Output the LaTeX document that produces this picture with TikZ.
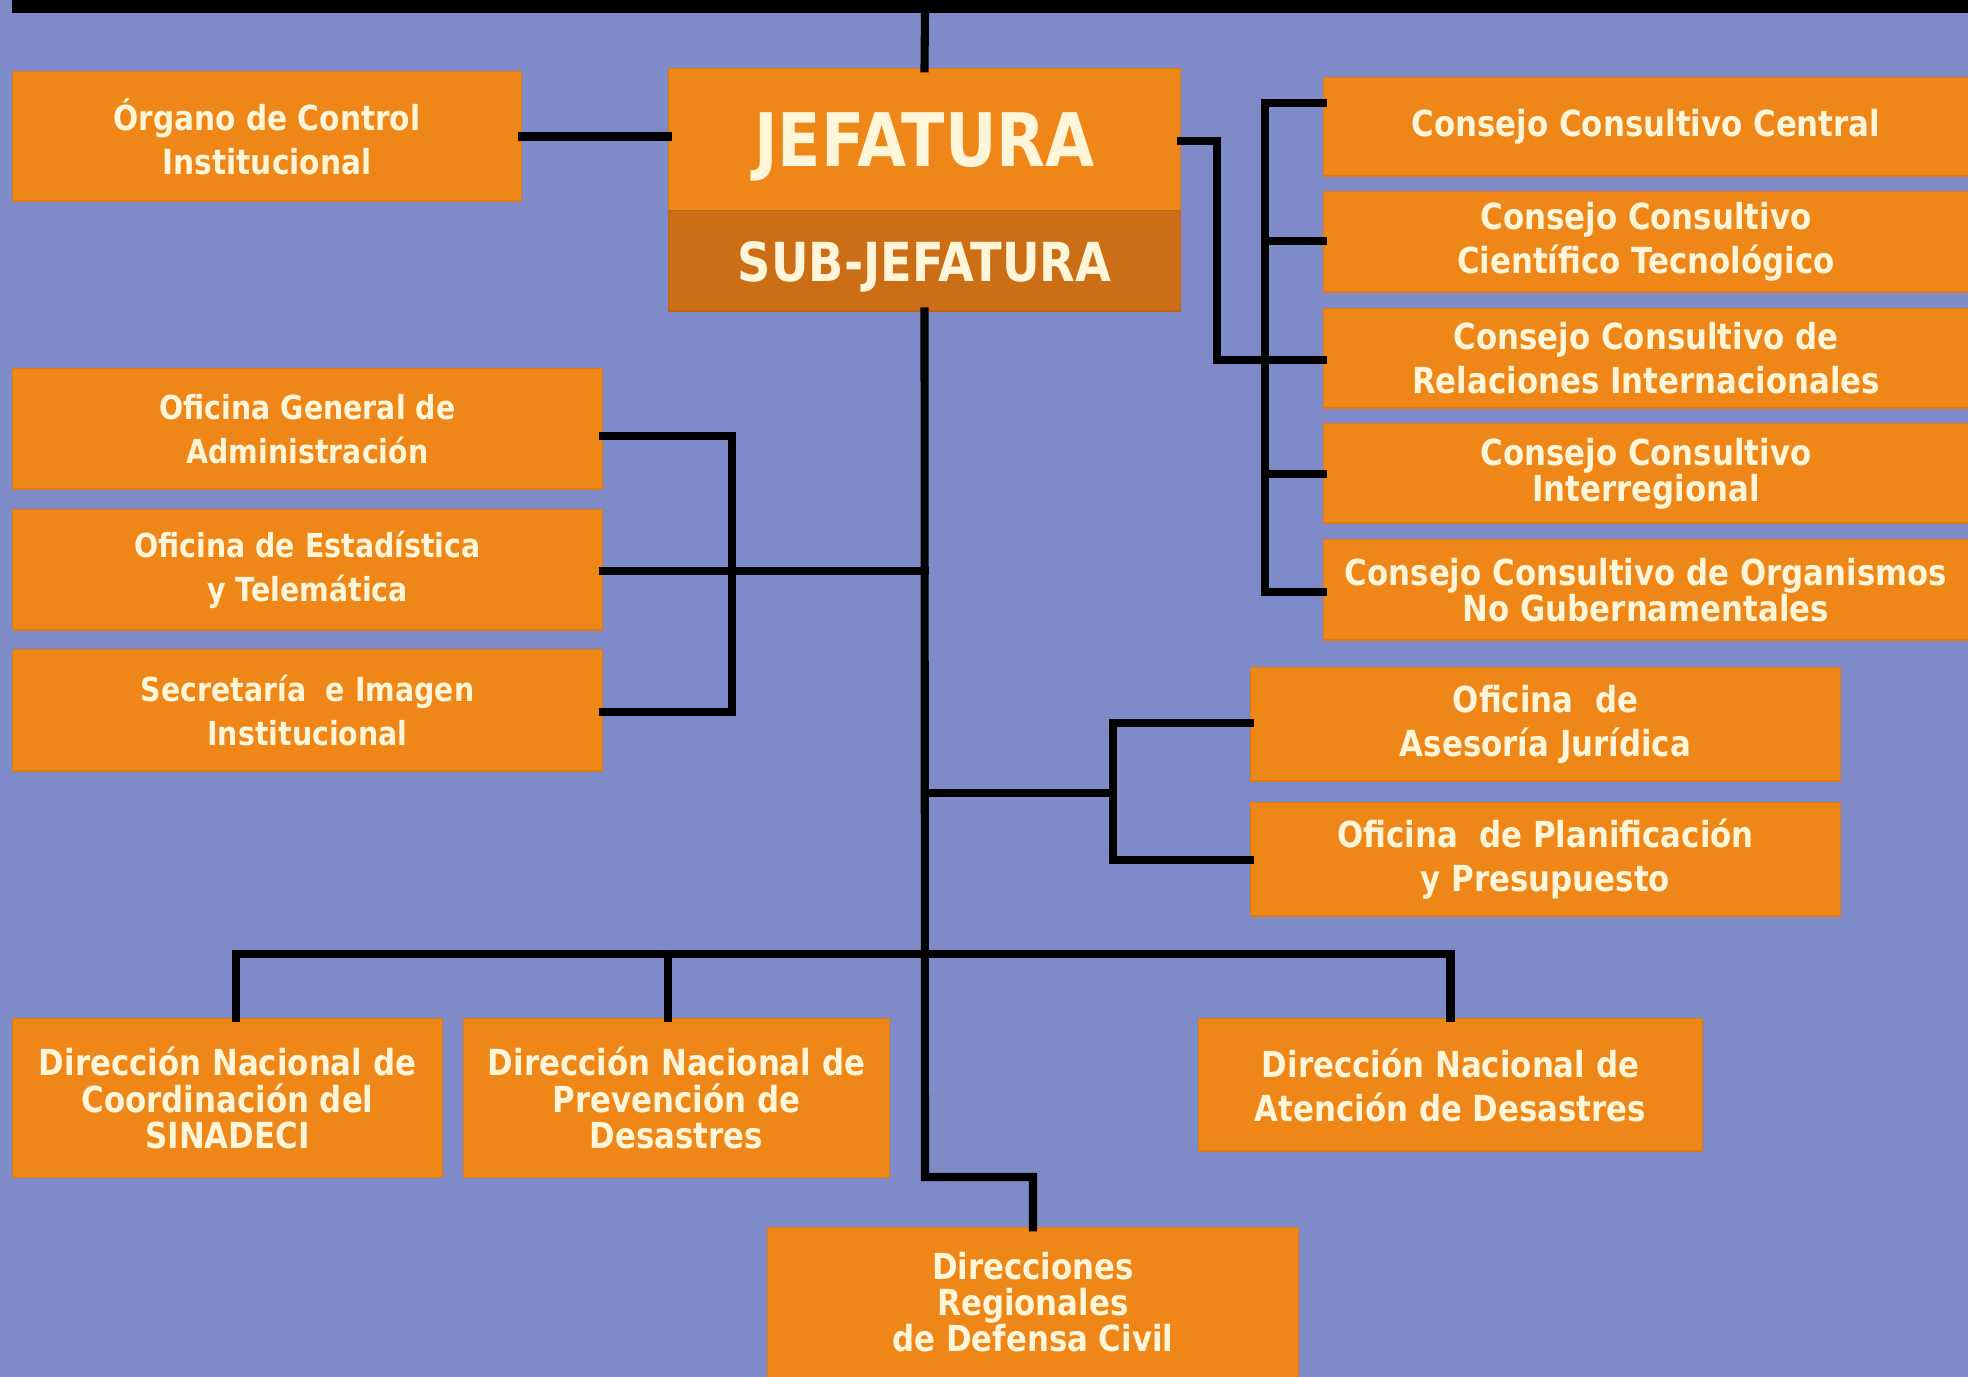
\documentclass[tikz,border=0pt]{standalone}
\usepackage{fontspec}
\newfontfamily\lbl[FakeStretch=0.86]{DejaVu Sans}
\definecolor{bgblue}{HTML}{7E8BC8}
\definecolor{boxor}{HTML}{EF8618}
\definecolor{subor}{HTML}{CC6E16}
\definecolor{txt}{HTML}{FFF5D8}
\tikzset{
  orgbox/.style={fill=boxor, draw=boxor!92!black, line width=0.3pt, text=txt, align=center, inner sep=0pt, font=\lbl\bfseries\fontsize{10.2}{12.5}\selectfont},
  small/.style={font=\lbl\bfseries\fontsize{9.4}{12.5}\selectfont},
  tight/.style={font=\lbl\bfseries\fontsize{10.2}{10.3}\selectfont},
  bigtxt/.style={text=txt, inner sep=0pt},
  conn/.style={line width=2.3pt, black, line cap=rect},
}
\begin{document}
\begin{tikzpicture}[x=0.01cm,y=-0.01cm]
\useasboundingbox (0,0) rectangle (1968,1377);
\fill[bgblue] (0,0) rectangle (1968,1377);
\fill[black] (12,0) rectangle (1968,13);
\coordinate (band) at (925,13);

% boxes
\node[orgbox, font=\lbl\bfseries\fontsize{9.8}{12.5}\selectfont, minimum width=5.08cm, minimum height=1.29cm] (organo) at (267,136.5) {Órgano de Control\\Institucional};
\node[orgbox, minimum width=5.11cm, minimum height=1.42cm] (jefe) at (924.5,140) {};
\node[bigtxt, font=\lbl\bfseries\fontsize{21}{24}\selectfont] (jefet) at ([yshift=-0.07cm]jefe.center) {JEFATURA};
\node[orgbox, fill=subor, draw=subor!92!black, minimum width=5.11cm, minimum height=1.00cm] (sub) at (924.5,261) {};
\node[bigtxt, font=\lbl\bfseries\fontsize{15.3}{18}\selectfont] (subt) at ([yshift=-0.06cm]sub.center) {SUB-JEFATURA};

\node[orgbox, minimum width=6.44cm, minimum height=0.98cm] (cc1) at (1646,127) {Consejo Consultivo Central};
\node[orgbox, minimum width=6.44cm, minimum height=1.00cm] (cc2) at (1646,242) {Consejo Consultivo\\Científico Tecnológico};
\node[orgbox, minimum width=6.44cm, minimum height=0.99cm] (cc3) at (1646,358.5) {Consejo Consultivo de\\Relaciones Internacionales};
\node[orgbox, tight, minimum width=6.44cm, minimum height=0.99cm] (cc4) at (1646,473.5) {Consejo Consultivo\\Interregional};
\node[orgbox, tight, minimum width=6.44cm, minimum height=1.00cm] (cc5) at (1646,590) {Consejo Consultivo de Organismos\\No Gubernamentales};

\node[orgbox, small, minimum width=5.89cm, minimum height=1.20cm] (oga) at (307.5,429) {Oficina General de\\Administración};
\node[orgbox, small, minimum width=5.89cm, minimum height=1.20cm] (oet) at (307.5,570) {Oficina de Estadística\\y Telemática};
\node[orgbox, small, minimum width=5.89cm, minimum height=1.21cm] (sec) at (307.5,710.5) {Secretaría~ e Imagen\\Institucional};

\node[orgbox, minimum width=5.89cm, minimum height=1.13cm] (ase) at (1545.5,724.5) {Oficina~ de\\Asesoría Jurídica};
\node[orgbox, minimum width=5.89cm, minimum height=1.13cm] (pla) at (1545.5,859.5) {Oficina~ de Planificación\\y Presupuesto};

\node[orgbox, tight, minimum width=4.29cm, minimum height=1.58cm] (dnc) at (227.5,1098) {Dirección Nacional de\\Coordinación del\\SINADECI};
\node[orgbox, tight, minimum width=4.25cm, minimum height=1.58cm] (dnp) at (676.5,1098) {Dirección Nacional de\\Prevención de\\Desastres};
\node[orgbox, minimum width=5.03cm, minimum height=1.32cm] (dna) at (1450.5,1085) {Dirección Nacional de\\Atención de Desastres};
\node[orgbox, minimum width=5.30cm, minimum height=1.66cm] (drc) at (1033,1311) {};
\node[bigtxt, align=center, font=\lbl\bfseries\fontsize{10.2}{10.3}\selectfont] (drct) at (1033,1302) {Direcciones\\Regionales\\de Defensa Civil};

% connector coordinates
\coordinate (jr1) at (1217,141);
\coordinate (jr2) at (1217,360);
\coordinate (ccv) at (1265,360);
\coordinate (lcv) at (732,571);
\coordinate (mid) at (925,571);
\coordinate (rm) at (925,793);
\coordinate (rmv) at (1113,793);
\coordinate (bl) at (236,954);
\coordinate (bm) at (668,954);
\coordinate (bend) at (925,1177);

% connectors
\draw[conn] (band) -- (jefe.north);
\draw[conn] (organo.east) -- (organo.east -| jefe.west);
\draw[conn] (jefe.east |- jr1) -- (jr1) -- (jr2) -- (ccv);
\draw[conn] (ccv |- 0,103) -- (ccv |- 0,592);
\draw[conn] (ccv |- 0,103) -- (cc1.west |- 0,103);
\draw[conn] (ccv |- 0,241) -- (cc2.west |- 0,241);
\draw[conn] (ccv) -- (cc3.west |- ccv);
\draw[conn] (ccv |- 0,474) -- (cc4.west |- 0,474);
\draw[conn] (ccv |- 0,592) -- (cc5.west |- 0,592);

\draw[conn] (sub.south) -- (bend) -- (bend -| drc.north) -- (drc.north);
\draw[conn] (oga.east |- 0,436) -- (lcv |- 0,436) -- (lcv |- 0,712) -- (sec.east |- 0,712);
\draw[conn] (oet.east |- mid) -- (mid);

\draw[conn] (rm) -- (rmv);
\draw[conn] (rmv |- 0,723) -- (rmv |- 0,860);
\draw[conn] (rmv |- 0,723) -- (ase.west |- 0,723);
\draw[conn] (rmv |- 0,860) -- (pla.west |- 0,860);

\draw[conn] (bl) -- (bl -| dna.north);
\draw[conn] (bl) -- (bl |- dnc.north);
\draw[conn] (bm) -- (bm |- dnp.north);
\draw[conn] (bl -| dna.north) -- (dna.north);
\end{tikzpicture}
\end{document}
